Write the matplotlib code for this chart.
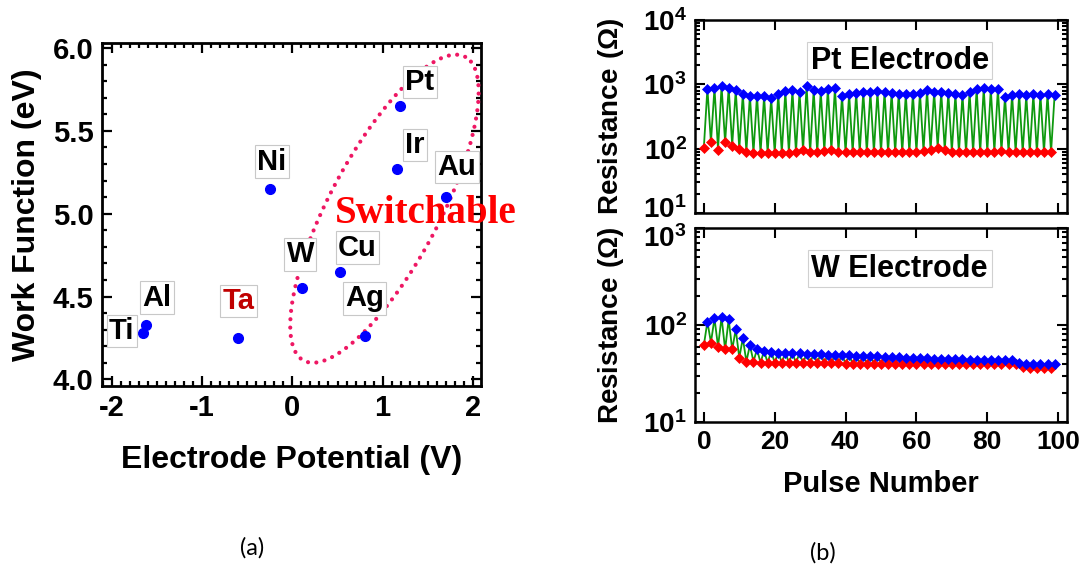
import numpy as np
import matplotlib
matplotlib.use("Agg")
import matplotlib.pyplot as plt
from matplotlib.ticker import (MultipleLocator, FixedLocator, LogLocator,
                               LogFormatterSciNotation, NullFormatter,
                               FormatStrFormatter)
from matplotlib.transforms import ScaledTranslation

plt.rcParams['font.family'] = ['Liberation Sans', 'DejaVu Sans']
plt.rcParams['font.weight'] = 'bold'
plt.rcParams['axes.labelweight'] = 'bold'
plt.rcParams['axes.unicode_minus'] = False
plt.rcParams['mathtext.fontset'] = 'custom'
plt.rcParams['mathtext.rm'] = 'Liberation Sans'
plt.rcParams['mathtext.bf'] = 'Liberation Sans:bold'

# ---- (a) electrode metals: standard potential vs work function ----
metals = ['Ti', 'Al', 'Ta', 'Ni', 'W', 'Cu', 'Ag', 'Ir', 'Pt', 'Au']
potential = [-1.66, -1.62, -0.60, -0.25, 0.11, 0.53, 0.80, 1.16, 1.19, 1.70]
work_function = [4.28, 4.33, 4.25, 5.15, 4.55, 4.65, 4.26, 5.27, 5.65, 5.10]

# ---- (b) resistance switching over 100 pulses ----
pulse_lrs = np.arange(0, 100, 2)
pulse_hrs = np.arange(1, 100, 2)

pt_hrs = [860, 880, 940, 880, 810, 710, 670, 670, 650, 610,
          710, 780, 810, 760, 950, 810, 780, 860, 880, 660,
          710, 740, 760, 760, 780, 760, 740, 720, 700, 710,
          740, 820, 760, 760, 740, 700, 690, 760, 860, 880,
          850, 860, 640, 690, 700, 680, 700, 690, 700, 680]
pt_lrs = [104, 125, 97, 125, 112, 99, 90, 86, 86, 86,
          86, 86, 87, 88, 95, 88, 88, 92, 96, 90,
          88, 88, 88, 88, 88, 88, 88, 88, 88, 88,
          90, 92, 95, 104, 95, 90, 88, 88, 88, 88,
          90, 90, 92, 90, 90, 88, 88, 88, 88, 88]

w_hrs = [108, 117, 120, 114, 90, 73, 62, 56, 54, 53,
         52, 52, 51, 51, 50, 50, 50, 49, 49, 49,
         49, 48, 48, 48, 48, 47, 47, 47, 46, 46,
         46, 46, 45, 45, 45, 45, 45, 44, 44, 44,
         44, 44, 44, 44, 41, 40, 40, 40, 40, 40]
w_lrs = [62, 66, 60, 56, 56, 46, 42, 42, 41, 41,
         41, 41, 41, 41, 41, 41, 41, 41, 41, 41,
         40, 40, 40, 40, 40, 40, 40, 40, 40, 40,
         40, 40, 40, 40, 40, 40, 40, 40, 40, 40,
         40, 40, 40, 40, 40, 37, 36, 36, 36, 36]

# label offsets from each point, in pixels (dx, dy)
label_offsets = {'Ti': (-21, 2), 'Al': (11, 27), 'Ta': (0, 37), 'Ni': (2, 27),
                 'W': (-2, 34), 'Cu': (17, 24), 'Ag': (0, 38), 'Ir': (18, 24),
                 'Pt': (20, 24), 'Au': (11, 30)}

W, H = 1086, 572
fig = plt.figure(figsize=(W / 100, H / 100), dpi=100)
fig.patch.set_facecolor('white')


def frac(left, top, right, bottom):
    return [left / W, 1 - bottom / H, (right - left) / W, (bottom - top) / H]


ax_a = fig.add_axes(frac(102, 43, 481, 386))
ax_pt = fig.add_axes(frac(695, 20, 1067, 213))
ax_w = fig.add_axes(frac(695, 228, 1067, 422))

# ---------------- panel (a) ----------------
ax_a.set_xlim(-2.11, 2.09)
ax_a.set_ylim(3.96, 6.03)
ax_a.xaxis.set_major_locator(MultipleLocator(1))
ax_a.xaxis.set_minor_locator(MultipleLocator(0.1))
ax_a.yaxis.set_major_locator(MultipleLocator(0.5))
ax_a.yaxis.set_minor_locator(MultipleLocator(0.1))
ax_a.yaxis.set_major_formatter(FormatStrFormatter('%.1f'))
ax_a.tick_params(which='both', direction='in', top=True, right=True, width=1.6)
ax_a.tick_params(which='major', length=7, labelsize=21, pad=6)
ax_a.tick_params(which='minor', length=3.5)
for sp in ax_a.spines.values():
    sp.set_linewidth(2.0)

ax_a.plot(potential, work_function, 'o', color='#0000ff', markersize=7,
          zorder=5, clip_on=False)

for name, x, y in zip(metals, potential, work_function):
    dx, dy = label_offsets[name]
    ax_a.annotate(name, (x, y), xytext=(dx * 0.72, dy * 0.72),
                  textcoords='offset points', ha='center', va='center',
                  fontsize=21, fontweight='bold',
                  color='#c00000' if name == 'Ta' else 'black',
                  bbox=dict(boxstyle='square,pad=0.08', fc='white',
                            ec='#c8c8c8', lw=0.8),
                  zorder=6)

# dotted ellipse around the switchable metals, drawn in pixel space
fig.canvas.draw()
cx, cy = ax_a.transData.transform((1.02, 5.03))
t = np.linspace(0, 2 * np.pi, 400)
a_px, b_px, ang = 172, 55, np.deg2rad(62)
ex = cx + a_px * np.cos(t) * np.cos(ang) - b_px * np.sin(t) * np.sin(ang)
ey = cy + a_px * np.cos(t) * np.sin(ang) + b_px * np.sin(t) * np.cos(ang)
ell = ax_a.transData.inverted().transform(np.column_stack([ex, ey]))
ax_a.plot(ell[:, 0], ell[:, 1], color='#ee1763', lw=3.0,
          linestyle=(0, (0.01, 2.0)), dash_capstyle='round', zorder=3)

ax_a.text(0.475, 5.0, 'Switchable', color='#ff0000', fontsize=28,
          fontweight='bold', family='Liberation Serif', va='center',
          ha='left', zorder=7, clip_on=False)

ax_a.set_xlabel('Electrode Potential (V)', fontsize=23, labelpad=16)
ax_a.set_ylabel('Work Function (eV)', fontsize=23, labelpad=8)

fig.text(252 / W, 1 - 548 / H, '(a)', fontsize=17, fontweight='normal',
         family='Lato', ha='center', va='center')


# ---------------- panel (b) ----------------
def switching_panel(ax, hrs, lrs, ylim, title, title_y):
    pulses = np.concatenate([pulse_lrs, pulse_hrs])
    values = np.concatenate([lrs, hrs])
    order = np.argsort(pulses)
    ax.plot(pulses[order], values[order], color='#0e990e', lw=1.3, zorder=2)
    ax.plot(pulse_lrs, lrs, 'D', color='#ff0000', markersize=5.6,
            mew=0.5, zorder=3)
    ax.plot(pulse_hrs, hrs, 'D', color='#0000ff', markersize=5.6,
            mew=0.5, zorder=4)
    ax.set_yscale('log')
    ax.set_ylim(*ylim)
    ax.set_xlim(-2.5, 102.5)
    ax.xaxis.set_major_locator(MultipleLocator(20))
    decades = [10.0 ** k for k in range(1, 5) if 10.0 ** k <= ylim[1]]
    ax.yaxis.set_major_locator(FixedLocator(decades))
    ax.yaxis.set_major_formatter(LogFormatterSciNotation())
    ax.yaxis.set_minor_locator(LogLocator(base=10, subs=np.arange(2, 10),
                                          numticks=20))
    ax.yaxis.set_minor_formatter(NullFormatter())
    ax.tick_params(which='both', direction='in', top=True, right=True,
                   width=1.5)
    ax.tick_params(which='major', length=7, labelsize=20, pad=6)
    ax.tick_params(which='minor', length=3.5)
    for sp in ax.spines.values():
        sp.set_linewidth(1.8)
    ax.set_ylabel(r'$\mathbf{Resistance}\ (\Omega)$', fontsize=20, labelpad=12)
    ax.text(0.55, title_y, title, transform=ax.transAxes, fontsize=22,
            fontweight='bold', ha='center', va='center',
            bbox=dict(boxstyle='square,pad=0.12', fc='white', ec='#d0d0d0',
                      lw=0.8))


switching_panel(ax_pt, pt_hrs, pt_lrs, (10, 1e4), 'Pt Electrode', 0.79)
switching_panel(ax_w, w_hrs, w_lrs, (10, 1e3), 'W Electrode', 0.79)
ax_pt.tick_params(axis='x', labelbottom=False)
ax_w.tick_params(axis='x', labelsize=19)
ax_w.set_xlabel('Pulse Number', fontsize=21, labelpad=11)

fig.text(823 / W, 1 - 553 / H, '(b)', fontsize=17, fontweight='normal',
         family='Lato', ha='center', va='center')

# nudge the two decade labels that meet between the stacked panels
fig.canvas.draw()
for ax, dy in ((ax_pt, 4), (ax_w, -6)):
    ticks = ax.yaxis.get_major_ticks()
    tick = ticks[0] if dy > 0 else ticks[-1]
    lbl = tick.label1
    lbl.set_transform(lbl.get_transform() +
                      ScaledTranslation(0, dy / 72, fig.dpi_scale_trans))

fig.savefig('out.png', dpi=100, facecolor='white')
